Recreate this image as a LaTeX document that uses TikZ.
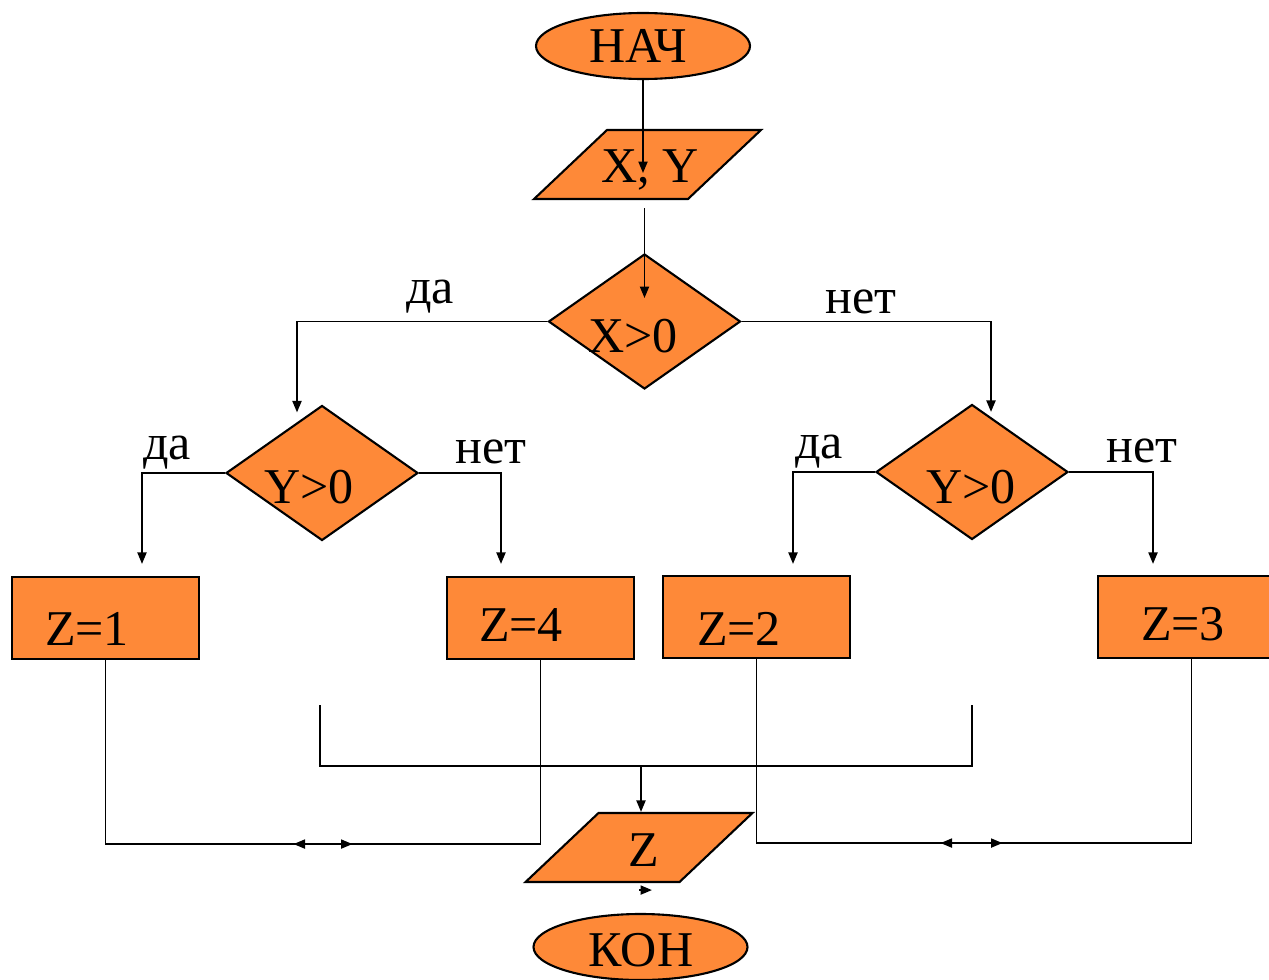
\documentclass[tikz,border=0pt]{standalone}
\usepackage{fontspec}
\setmainfont{Liberation Serif}
\usepackage{tikz}
\usetikzlibrary{arrows.meta, shapes.geometric, positioning}
\definecolor{oranzh}{RGB}{254,137,56}

\tikzset{
  blok/.style={draw=black, fill=oranzh, line width=1.2pt, inner sep=0pt},
  term/.style={blok, ellipse, minimum width=42.8mm, minimum height=13.2mm},
  uslovie/.style={blok, diamond, minimum width=38.4mm, minimum height=27mm},
  deistvie/.style={blok, rectangle, minimum width=37.4mm, minimum height=16.4mm},
  vvod/.style={blok, trapezium, trapezium left angle=48, trapezium right angle=132,
    trapezium stretches=true, inner sep=2pt, minimum width=45.4mm, minimum height=13.8mm},
  nadpis/.style={anchor=base, inner sep=0pt},
  liniya/.style={line width=1.1pt},
  strelka/.style={liniya, -{Triangle[length=2.3mm, width=1.8mm]}},
}

\begin{document}
\begin{tikzpicture}[x=0.2mm, y=-0.2mm, font=\fontsize{28.5}{34}\selectfont]

  \clip (0,0) rectangle (1269,980);

  % Блоки
  \node[term]     (nach) at (643,46)      {};
  \node[vvod]     (xy)   at (647.5,164.5) {};
  \node[uslovie]  (x0)   at (644.5,321.5) {};
  \node[uslovie]  (yl)   at (322,473)     {};
  \node[uslovie]  (yr)   at (972,472)     {};
  \node[deistvie] (z1)   at (105.5,618)   {};
  \node[deistvie] (z4)   at (540.5,618)   {};
  \node[deistvie] (z2)   at (756.5,617)   {};
  \node[deistvie] (z3)   at (1191.5,617)  {};
  \node[vvod]     (zz)   at (639,847.5)   {};
  \node[term]     (kon)  at (640.5,947)   {};

  % Надписи в блоках
  \node[nadpis] (t-nach) at (638,63)   {НАЧ};
  \node[nadpis] (t-xy)   at (650,183)  {X, Y};
  \node[nadpis] (t-x0)   at (633,352)  {X>0};
  \node[nadpis] (t-yl)   at (309,503)  {Y>0};
  \node[nadpis] (t-yr)   at (971,503)  {Y>0};
  \node[nadpis] (t-z1)   at (87,645)   {Z=1};
  \node[nadpis] (t-z4)   at (521,641)  {Z=4};
  \node[nadpis] (t-z2)   at (739,645)  {Z=2};
  \node[nadpis] (t-z3)   at (1183,640) {Z=3};
  \node[nadpis] (t-zz)   at (644,866)  {Z};
  \node[nadpis] (t-kon)  at (641,966)  {КОН};

  % Да / нет
  \node[nadpis] (da0)  at (430,303)  {да};
  \node[nadpis] (net0) at (861,313)  {нет};
  \node[nadpis] (da1)  at (167,459)  {да};
  \node[nadpis] (net1) at (491,463)  {нет};
  \node[nadpis] (da2)  at (819,458)  {да};
  \node[nadpis] (net2) at (1142,462) {нет};

  % Стрелки сверху вниз
  \draw[strelka] (nach.south) -- ++(0,93);
  \draw[strelka] ([shift={(-3,8)}]xy.south) -- ++(0,90);
  \draw[strelka] (x0.west) -| ([shift={(-25,8)}]yl.north);
  \draw[strelka] (x0.east) -| ([shift={(19,8.5)}]yr.north);
  \draw[strelka] (yl.west) -| ([shift={(36.5,-12)}]z1.north);
  \draw[strelka] (yl.east) -| ([shift={(-39.5,-12)}]z4.north);
  \draw[strelka] (yr.west) -| ([shift={(36.5,-11)}]z2.north);
  \draw[strelka] (yr.east) -| ([shift={(-38.5,-11)}]z3.north);

  % Слияние ветвей
  \draw[strelka] (z1.south) -- ++(0,184) -- ++(247,0);
  \draw[strelka] (z4.south) -- ++(0,184) -- ++(-247,0);
  \draw[strelka] (z2.south) -- ++(0,184) -- ++(246,0);
  \draw[strelka] (z3.south) -- ++(0,184) -- ++(-251,0);

  \coordinate (sl) at (320,705);
  \coordinate (sr) at (972,705);
  \coordinate (sb) at (641,766);
  \draw[liniya] (sl) -- (sl |- sb) -| (sr);
  \draw[strelka] (sb) -- (sb |- zz.north);
  \draw[strelka] ([shift={(0,7)}]zz.south) -- ++(13,0);

\end{tikzpicture}
\end{document}
